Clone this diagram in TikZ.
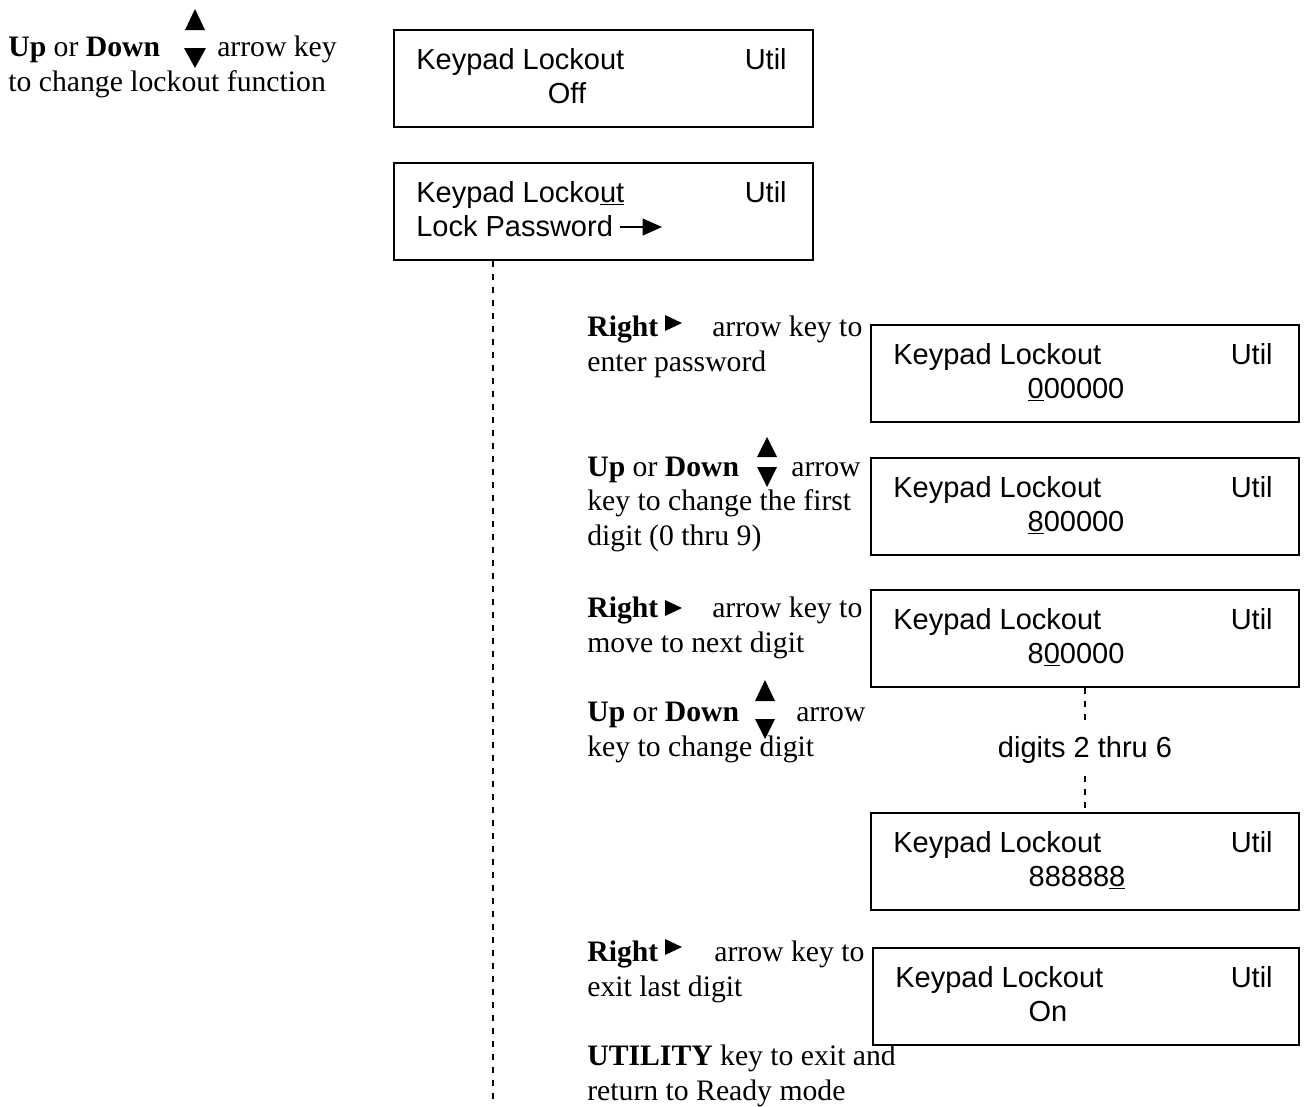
\documentclass[tikz,border=0pt]{standalone}
\usepackage{fontspec}
\setmainfont{Liberation Serif}
\setsansfont{Liberation Sans}
\usetikzlibrary{arrows.meta,fit}
\tikzset{
  lcdbox/.style={draw,line width=1.1pt,inner sep=0pt},
  lcd/.style={font=\sffamily\fontsize{16.5}{19.3}\selectfont,inner sep=0pt},
  note/.style={font=\fontsize{16.9}{19.6}\selectfont,align=left,inner sep=0pt,anchor=base west},
  dashline/.style={line width=0.8pt,dash pattern=on 3.4pt off 4pt},
  keytri/.style={fill=black}
}
\begin{document}
\begin{tikzpicture}[x=0.02cm,y=-0.02cm]
\useasboundingbox(0,0)rectangle(1307,1106);
% display screens
\foreach \i/\xl/\xr/\yt/\val/\xc in {1/394/813/30/Off/567,3/871/1299/325/\underline{0}00000/1076,
  4/871/1299/458/\underline{8}00000/1076,5/871/1299/590/8\underline{0}0000/1076,
  6/871/1299/813/88888\underline{8}/1077,7/873/1299/948/On/1048}{
  \node[lcdbox,fit={(\xl,\yt)(\xr,\yt+97)}](box\i){};
  \node[lcd,anchor=base west](kp\i)at(\xl+22,\yt+39){Keypad Lockout};
  \node[lcd,anchor=base east](ut\i)at(\xr-26,\yt+39){Util};
  \node[lcd,anchor=base](val\i)at(\xc,\yt+73){\val};
}
\node[lcdbox,fit={(394,163)(813,260)}](box2){};
\node[lcd,anchor=base west](kp2)at(416,202){Keypad Locko\underline{ut}};
\node[lcd,anchor=base east](ut2)at(787,202){Util};
\node[lcd,anchor=base west](lp)at(416,236){Lock Password};
\coordinate(pwtail)at(620,227);\coordinate(pwtip)at(662,227);
\draw[line width=1.1pt,-{Triangle[length=11pt,width=9.5pt]}](pwtail)--(pwtip);
% key notes (anchored at the last line)
\node[note](n0)at(8,91){\makebox[118.9pt][l]{\textbf{Up} or \textbf{Down}}arrow key\\to change lockout function};
\node[note](n1)at(587,371){\makebox[71.1pt][l]{\textbf{Right}}arrow key to\\enter password};
\node[note](n2)at(587,545){\makebox[116.1pt][l]{\textbf{Up} or \textbf{Down}}arrow\\key to change the first\\digit (0 thru 9)};
\node[note](n3)at(587,652){\makebox[71.1pt][l]{\textbf{Right}}arrow key to\\move to next digit};
\node[note](n4)at(587,756){\makebox[118.9pt][l]{\textbf{Up} or \textbf{Down}}arrow\\key to change digit};
\node[note](n5)at(587,996){\makebox[72.3pt][l]{\textbf{Right}}arrow key to\\exit last digit};
\node[note](n6)at(587,1100){\textbf{UTILITY} key to exit and\\return to Ready mode};
% arrow keys
\fill[keytri](185,30)--(205,30)--(195,9)--cycle(184,48)--(206,48)--(195,68)--cycle;
\fill[keytri](757,457)--(777,457)--(767,437)--cycle(757,467)--(777,467)--(767,487)--cycle;
\fill[keytri](755,701)--(775,701)--(765,680)--cycle(755,719)--(775,719)--(765,739)--cycle;
\fill[keytri](665,315)--(682,323)--(665,331)--cycle;
\fill[keytri](665,600)--(682,608)--(665,616)--cycle;
\fill[keytri](665,939)--(682,947)--(665,955)--cycle;
% flow lines
\coordinate(vend)at(493,1106);
\draw[dashline](box2.south -| vend)--(vend);
\node[lcd,inner ysep=7pt](dg)at(1085,750){digits 2 thru 6};
\draw[dashline](box5.south)--(dg);\draw[dashline](dg)--(box6.north);
\end{tikzpicture}
\end{document}
